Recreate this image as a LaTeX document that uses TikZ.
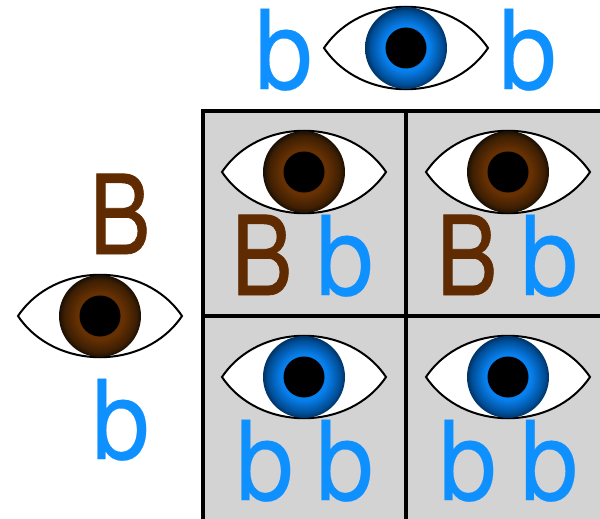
\documentclass[tikz,border=0pt]{standalone}
\usepackage{fontspec}
\setmainfont{TeX Gyre Heros}
\newfontfamily\heavyfont[FakeBold=0.7]{TeX Gyre Heros}
\newfontfamily\lightheavyfont[FakeBold=0.25]{TeX Gyre Heros}
\definecolor{eyeblue}{HTML}{0F90FF}
\definecolor{eyebrown}{HTML}{602B00}
\definecolor{cellgrey}{HTML}{D3D3D3}
\pgfdeclareradialshading{irisblue}{\pgfpointorigin}{%
  rgb(0bp)=(0.03,0.50,0.93); rgb(14bp)=(0.03,0.50,0.93);
  rgb(22bp)=(0.0,0.31,0.60); rgb(25bp)=(0.0,0.2,0.4); rgb(50bp)=(0.0,0.2,0.4)}
\pgfdeclareradialshading{irisbrown}{\pgfpointorigin}{%
  rgb(0bp)=(0.40,0.19,0.01); rgb(14bp)=(0.40,0.19,0.01);
  rgb(22bp)=(0.24,0.12,0.01); rgb(25bp)=(0.10,0.06,0.02); rgb(50bp)=(0.10,0.06,0.02)}
\tikzset{
  x=1pt,y=-1pt,
  letter/.style={inner sep=0pt,outer sep=0pt,anchor=base west,font=\fontsize{110}{110}\selectfont},
  blueb/.style={letter,text=eyeblue},
  brownb/.style={letter,text=eyebrown},
  gridline/.style={draw=black,line width=4pt},
  eyeball/.pic={
    \draw[black,line width=2pt,fill=white,line join=miter]
      (-82,0) .. controls (-45,-55) and (45,-55) .. (82,0)
              .. controls (45,55) and (-45,55) .. (-82,0) -- cycle;
    \shade[shading=#1] (0,0) circle (41);
    \fill[black] (0,0) circle (20.5);
  }
}
\newcommand{\narrowB}{\scalebox{0.83}[1]{\heavyfont B}}
\newcommand{\narrowb}{\scalebox{0.94}[1]{\lightheavyfont b}}
\begin{document}
\begin{tikzpicture}
\useasboundingbox (0,0) rectangle (600,519);
\fill[white] (0,0) rectangle (600,519);
\coordinate (gtl) at (202.5,110.5);
\coordinate (gtm) at (405.5,110.5);
\coordinate (gtr) at (600,110.5);
\coordinate (gml) at (202.5,316);
\coordinate (gmr) at (600,316);
\coordinate (gbl) at (202.5,519);
\coordinate (gbm) at (405.5,519);
\fill[cellgrey] (gtl) rectangle (600,519);
\draw[gridline] (gtr) -- (gtl) -- (gbl);
\draw[gridline] (gtm) -- (gbm);
\draw[gridline] (gml) -- (gmr);

\pic at (406,48) {eyeball=irisblue};
\pic at (304,172) {eyeball=irisbrown};
\pic at (508,172) {eyeball=irisbrown};
\pic at (100,316) {eyeball=irisbrown};
\pic at (304,377) {eyeball=irisblue};
\pic at (508,377) {eyeball=irisblue};

\node[blueb] (top1) at (255,89) {\narrowb};
\node[blueb] (top2) at (499,89) {\narrowb};
\node[brownb] (leftB) at (89.5,254) {\narrowB};
\node[blueb] (leftb) at (92,459) {\narrowb};
\node[brownb] (c1B) at (231.5,295) {\narrowB};
\node[blueb] (c1b) at (316,295) {\narrowb};
\node[brownb] (c2B) at (436.5,295) {\narrowB};
\node[blueb] (c2b) at (520.5,295) {\narrowb};
\node[blueb] (c3a) at (236,500) {\narrowb};
\node[blueb] (c3b) at (316,500) {\narrowb};
\node[blueb] (c4a) at (439,500) {\narrowb};
\node[blueb] (c4b) at (520.5,500) {\narrowb};
\end{tikzpicture}
\end{document}
